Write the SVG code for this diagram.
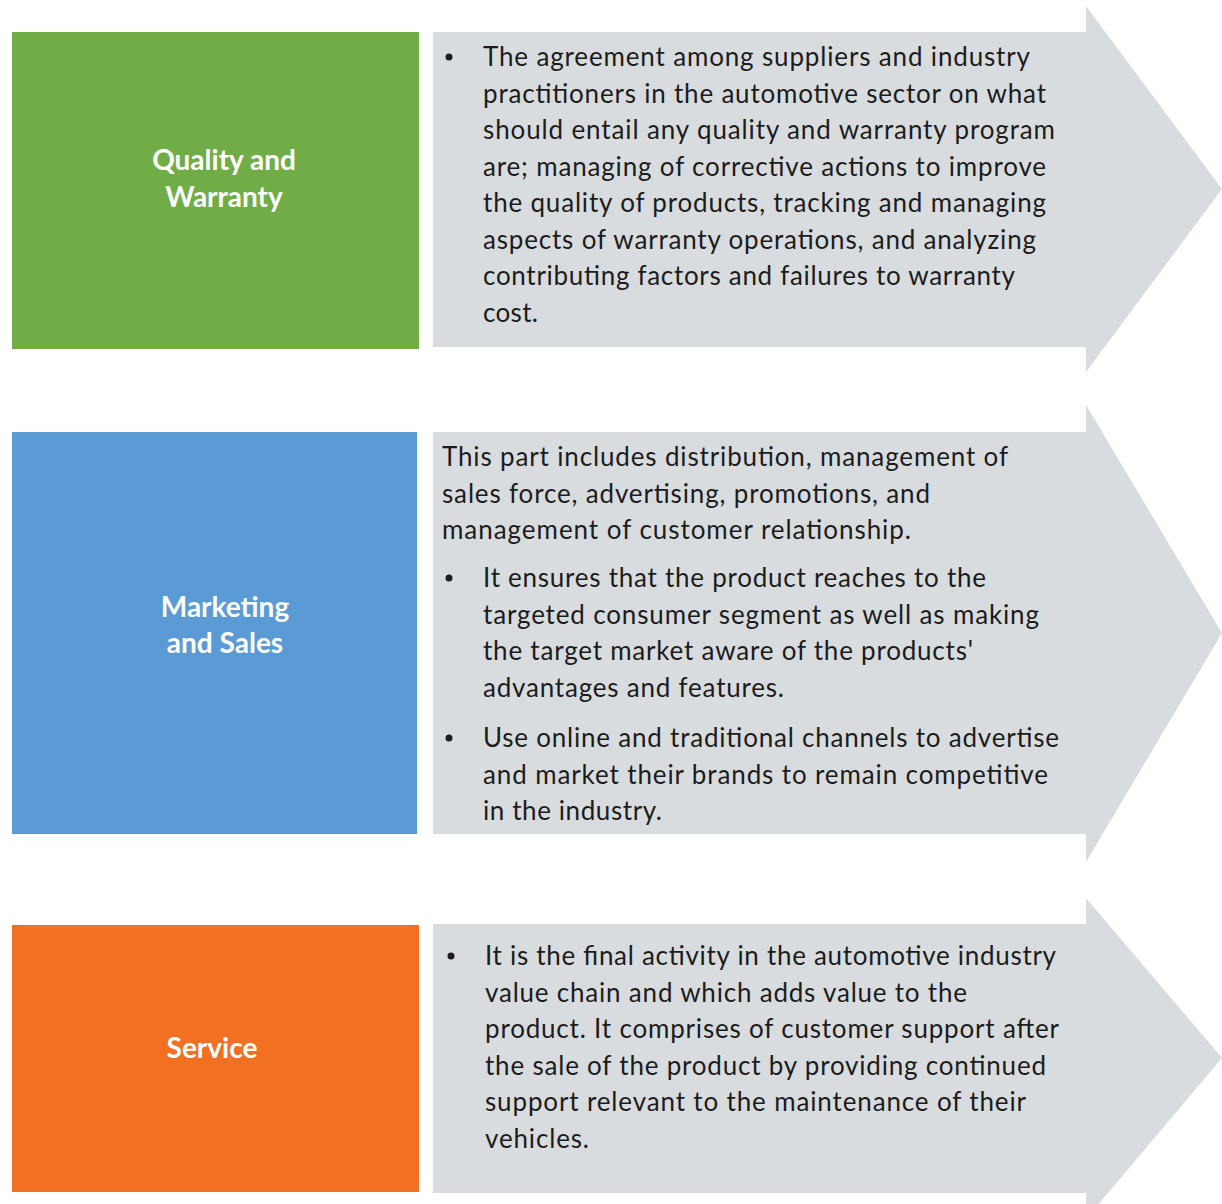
<svg xmlns="http://www.w3.org/2000/svg" width="1222" height="1204" viewBox="0 0 1222 1204">
<style>
.bg{fill:#ffffff}
.arrow{fill:#D9DCDF}
.title{font-family:Lato,"Liberation Sans",sans-serif;font-weight:bold;font-size:28px;fill:#ffffff;text-anchor:middle}
.body{font-family:Lato,"Liberation Sans",sans-serif;font-size:26px;fill:#1c1c1c}
.dot{fill:#1c1c1c}
</style>
<rect class="bg" x="0" y="0" width="1222" height="1204"/>
<g id="connectors"/>
<g id="node-quality">
  <rect x="12" y="32" width="407" height="317" fill="#70AD47"/>
  <text class="title" x="224" y="170">Quality and</text>
  <text class="title" x="224" y="207">Warranty</text>
</g>
<g id="node-quality-desc">
  <polygon class="arrow" points="433,32 1086,32 1086,6 1222,189 1086,372 1086,347 433,347"/>
  <circle class="dot" cx="449" cy="57" r="3.5"/>
  <text class="body" x="483" y="66" textLength="547">The agreement among suppliers and industry</text>
  <text class="body" x="483" y="102.5" textLength="563">practitioners in the automotive sector on what</text>
  <text class="body" x="483" y="139" textLength="572">should entail any quality and warranty program</text>
  <text class="body" x="483" y="175.5" textLength="563">are; managing of corrective actions to improve</text>
  <text class="body" x="483" y="212" textLength="563">the quality of products, tracking and managing</text>
  <text class="body" x="483" y="248.5" textLength="553">aspects of warranty operations, and analyzing</text>
  <text class="body" x="483" y="285" textLength="532">contributing factors and failures to warranty</text>
  <text class="body" x="483" y="321.5" textLength="55">cost.</text>
</g>
<g id="node-marketing">
  <rect x="12" y="432" width="405" height="402" fill="#5B9BD5"/>
  <text class="title" x="225" y="617">Marketing</text>
  <text class="title" x="225" y="653">and Sales</text>
</g>
<g id="node-marketing-desc">
  <polygon class="arrow" points="433,432 1086,432 1086,405 1222,633 1086,862 1086,834 433,834"/>
  <text class="body" x="442" y="466" textLength="566">This part includes distribution, management of</text>
  <text class="body" x="442" y="502.5" textLength="488">sales force, advertising, promotions, and</text>
  <text class="body" x="442" y="539" textLength="469">management of customer relationship.</text>
  <circle class="dot" cx="449" cy="578" r="3.5"/>
  <text class="body" x="483" y="587" textLength="503">It ensures that the product reaches to the</text>
  <text class="body" x="483" y="623.5" textLength="556">targeted consumer segment as well as making</text>
  <text class="body" x="483" y="660" textLength="490">the target market aware of the products'</text>
  <text class="body" x="483" y="696.5" textLength="301">advantages and features.</text>
  <circle class="dot" cx="449" cy="738" r="3.5"/>
  <text class="body" x="483" y="747" textLength="576">Use online and traditional channels to advertise</text>
  <text class="body" x="483" y="783.5" textLength="565">and market their brands to remain competitive</text>
  <text class="body" x="483" y="820" textLength="179">in the industry.</text>
</g>
<g id="node-service">
  <rect x="12" y="925" width="407" height="267" fill="#F27022"/>
  <text class="title" x="212" y="1058">Service</text>
</g>
<g id="node-service-desc">
  <polygon class="arrow" points="433,924 1086,924 1086,898 1222,1058 1086,1219 1086,1193 433,1193"/>
  <circle class="dot" cx="451" cy="956" r="3.5"/>
  <text class="body" x="485" y="965" textLength="571">It is the final activity in the automotive industry</text>
  <text class="body" x="485" y="1001.5" textLength="482">value chain and which adds value to the</text>
  <text class="body" x="485" y="1038" textLength="574">product. It comprises of customer support after</text>
  <text class="body" x="485" y="1074.5" textLength="561">the sale of the product by providing continued</text>
  <text class="body" x="485" y="1111" textLength="541">support relevant to the maintenance of their</text>
  <text class="body" x="485" y="1147.5" textLength="104">vehicles.</text>
</g>
</svg>
